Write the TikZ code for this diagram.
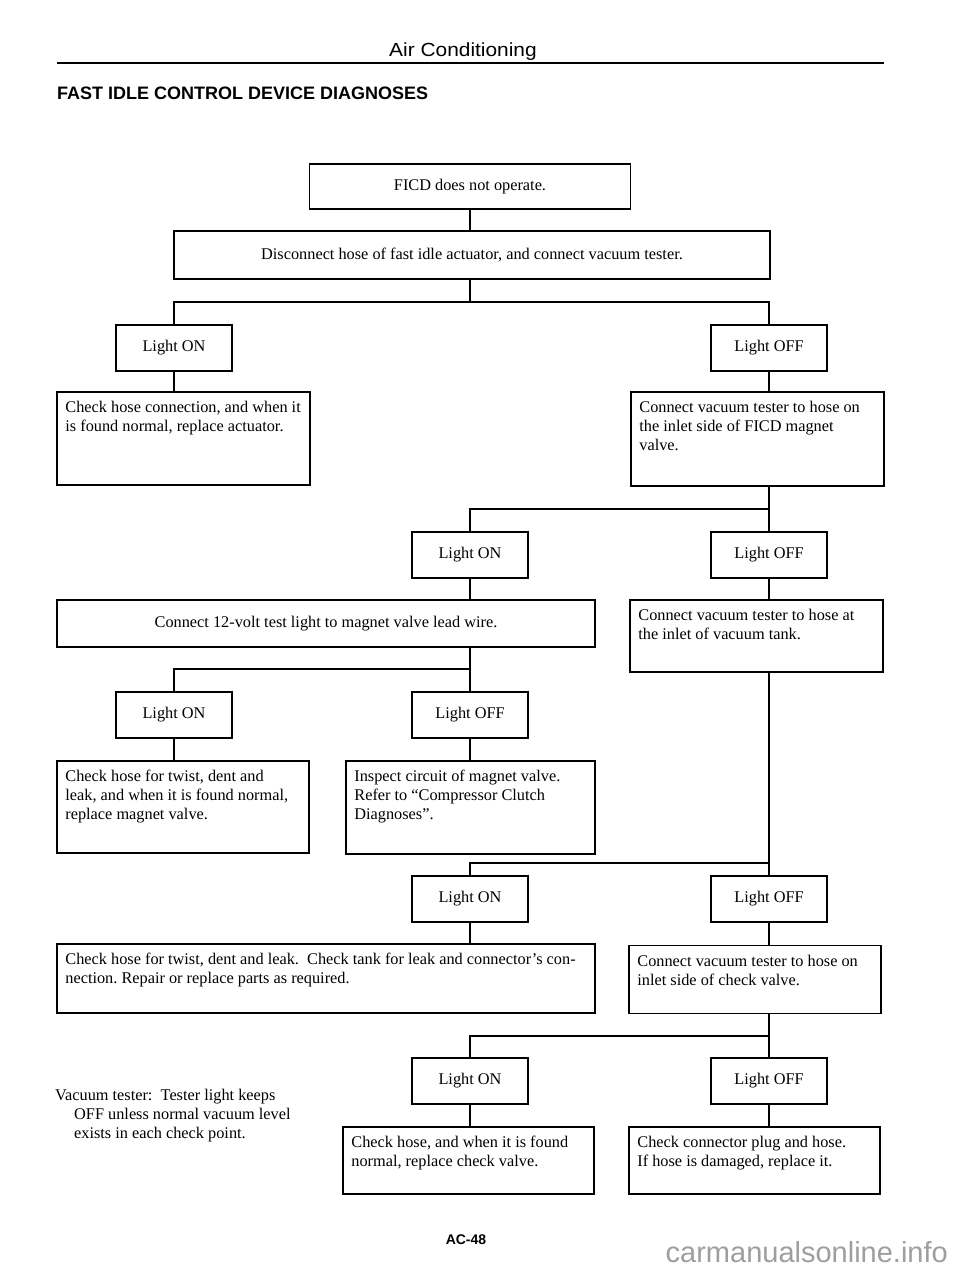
\documentclass[tikz,border=0pt]{standalone}
\usepackage{fontspec}
\setmainfont{Liberation Serif}
\newfontfamily\hsans{Liberation Sans}
\begin{document}
\begin{tikzpicture}[x=1pt,y=-1pt,
  box/.style={draw, rectangle, line width=1.6pt, inner sep=0pt},
  lightbox/.style={box, minimum width=116pt, minimum height=46pt, font=\body},
  txt/.style={anchor=north west, inner sep=0pt, align=left, font=\body},
  conn/.style={line width=1.5pt}]
\def\body{\fontsize{16.3}{19}\selectfont}
\useasboundingbox (0,0) rectangle (960,1269);
% header
\node (hdr) at (463,52) {\hsans\fontsize{19}{22}\selectfont\scalebox{1.1}[1]{Air Conditioning}};
\draw[line width=2.6pt] (57,63) coordinate (r1) -- (884,63) coordinate (r2);
\node[anchor=west, inner sep=0pt] (title) at (57,93) {\hsans\bfseries\fontsize{18}{21}\selectfont FAST IDLE CONTROL DEVICE DIAGNOSES};
% boxes
\node[box, minimum width=321pt, minimum height=45pt, font=\body] (ficd) at (470,186.5) {FICD does not operate.};
\node[box, minimum width=596pt, minimum height=48pt, font=\body] (disc) at (472,255) {Disconnect hose of fast idle actuator, and connect vacuum tester.};
\node[lightbox] (lon1) at (174,348) {Light ON};
\node[lightbox] (loff1) at (769,348) {Light OFF};
\node[box, minimum width=253pt, minimum height=93pt] (chk1) at (183.5,438.5) {};
\node[txt] (chk1t) at ([shift={(9,8)}]chk1.north west) {\strut Check hose connection, and when it\\is found normal, replace actuator.};
\node[box, minimum width=253pt, minimum height=94pt] (conn1) at (757.5,439) {};
\node[txt] (conn1t) at ([shift={(9,8)}]conn1.north west) {\strut Connect vacuum tester to hose on\\the inlet side of FICD magnet\\valve.};
\node[lightbox] (lon2) at (470,555) {Light ON};
\node[lightbox] (loff2) at (769,555) {Light OFF};
\node[box, minimum width=538pt, minimum height=47pt, font=\body] (c12) at (326,623.5) {Connect 12-volt test light to magnet valve lead wire.};
\node[box, minimum width=253pt, minimum height=72pt] (tank) at (756.5,636) {};
\node[txt] (tankt) at ([shift={(9,8)}]tank.north west) {\strut Connect vacuum tester to hose at\\the inlet of vacuum tank.};
\node[lightbox] (lon3) at (174,715) {Light ON};
\node[lightbox] (loff3) at (470,715) {Light OFF};
\node[box, minimum width=252pt, minimum height=92pt] (chk3) at (183,807) {};
\node[txt] (chk3t) at ([shift={(9,8)}]chk3.north west) {\strut Check hose for twist, dent and\\leak, and when it is found normal,\\replace magnet valve.};
\node[box, minimum width=249pt, minimum height=93pt] (insp) at (470.5,807.5) {};
\node[txt] (inspt) at ([shift={(9,8)}]insp.north west) {\strut Inspect circuit of magnet valve.\\Refer to ``Compressor Clutch\\Diagnoses''.};
\node[lightbox] (lon4) at (470,899) {Light ON};
\node[lightbox] (loff4) at (769,899) {Light OFF};
\node[box, minimum width=538pt, minimum height=69pt] (twist) at (326,978.5) {};
\node[txt] (twistt) at ([shift={(9,8)}]twist.north west) {\strut Check hose for twist, dent and leak.\ \ Check tank for leak and connector's con-\\nection.\ Repair or replace parts as required.};
\node[box, minimum width=252pt, minimum height=68pt] (cvalve) at (755,979.5) {};
\node[txt] (cvalvet) at ([shift={(9,8)}]cvalve.north west) {\strut Connect vacuum tester to hose on\\inlet side of check valve.};
\node[lightbox] (lon5) at (470,1081) {Light ON};
\node[lightbox] (loff5) at (769,1081) {Light OFF};
\node[box, minimum width=251pt, minimum height=67pt] (chkv) at (468.5,1160.5) {};
\node[txt] (chkvt) at ([shift={(9,8)}]chkv.north west) {\strut Check hose, and when it is found\\normal, replace check valve.};
\node[box, minimum width=251pt, minimum height=67pt] (plug) at (754.5,1160.5) {};
\node[txt] (plugt) at ([shift={(9,8)}]plug.north west) {\strut Check connector plug and hose.\\If hose is damaged, replace it.};
% note
\node[anchor=north west, inner sep=0pt, font=\body] (note) at (55,1087) {\parbox[t]{260pt}{\strut Vacuum tester:\ \ Tester light keeps\\\hspace*{19pt}OFF unless normal vacuum level\\\hspace*{19pt}exists in each check point.}};
\node[font=\hsans\bfseries\fontsize{14}{16}\selectfont] (page) at (466,1240) {AC-48};
\node[anchor=east, inner sep=0pt, text=black!38, font=\hsans\fontsize{29}{32}\selectfont] (wm) at (948,1252) {carmanualsonline.info};
% junctions
\coordinate (j1) at (470,302);
\coordinate (j2) at (769,509);
\coordinate (j3) at (470,669);
\coordinate (j4) at (769,863);
\coordinate (j5) at (769,1036);
% connectors
\begin{scope}[conn]
\draw (ficd.south) -- (ficd.south |- disc.north);
\draw (j1 |- disc.south) -- (j1);
\draw (lon1.north) |- (j1) -| (loff1.north);
\draw (lon1.south) -- (lon1.south |- chk1.north);
\draw (loff1.south) -- (loff1.south |- conn1.north);
\draw (loff2.north |- conn1.south) -- (loff2.north);
\draw (lon2.north) |- (j2);
\draw (lon2.south) -- (lon2.south |- c12.north);
\draw (loff2.south) -- (loff2.south |- tank.north);
\draw (loff3.north |- c12.south) -- (loff3.north);
\draw (lon3.north) |- (j3);
\draw (lon3.south) -- (lon3.south |- chk3.north);
\draw (loff3.south) -- (loff3.south |- insp.north);
\draw (loff4.north |- tank.south) -- (loff4.north);
\draw (lon4.north) |- (j4);
\draw (lon4.south) -- (lon4.south |- twist.north);
\draw (loff4.south) -- (loff4.south |- cvalve.north);
\draw (loff5.north |- cvalve.south) -- (loff5.north);
\draw (lon5.north) |- (j5);
\draw (lon5.south) -- (lon5.south |- chkv.north);
\draw (loff5.south) -- (loff5.south |- plug.north);
\end{scope}
\end{tikzpicture}
\end{document}
